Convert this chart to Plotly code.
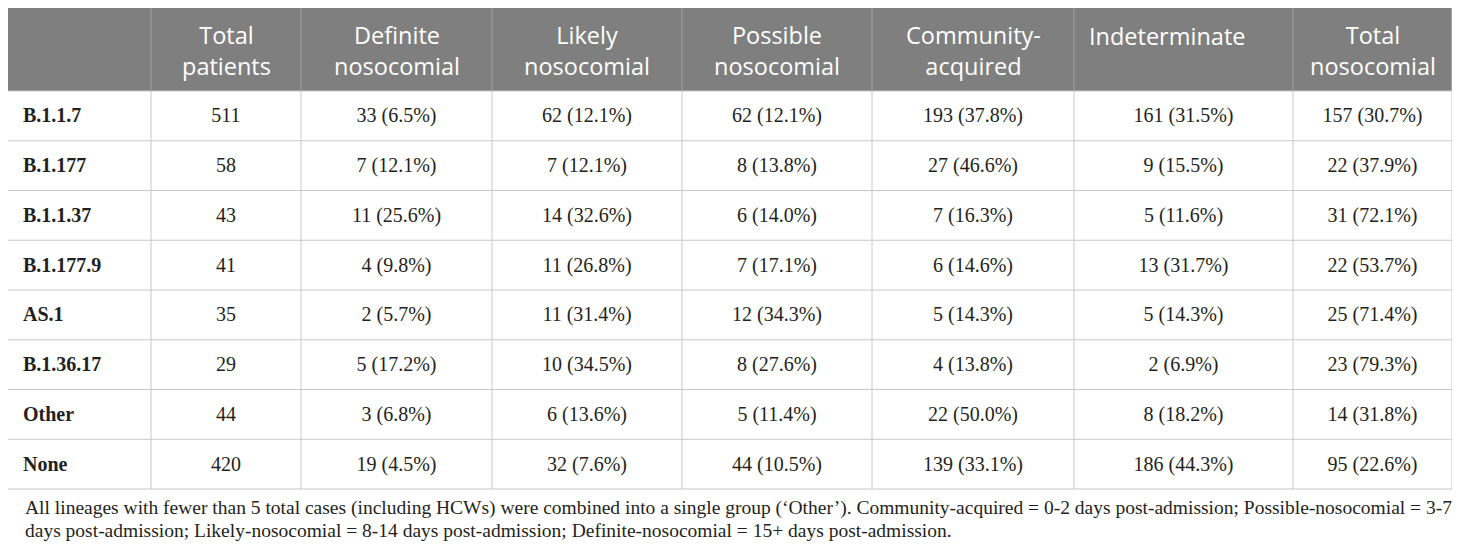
import plotly.graph_objs as go

# column headers and row labels
headers = ["", "Total<br>patients", "Definite<br>nosocomial", "Likely<br>nosocomial",
           "Possible<br>nosocomial", "Community-<br>acquired", "Indeterminate",
           "Total<br>nosocomial"]
lineages = ["B.1.1.7", "B.1.177", "B.1.1.37", "B.1.177.9", "AS.1", "B.1.36.17", "Other", "None"]

total_patients = [511, 58, 43, 41, 35, 29, 44, 420]

definite_n = [33, 7, 11, 4, 2, 5, 3, 19]
definite_pct = [6.5, 12.1, 25.6, 9.8, 5.7, 17.2, 6.8, 4.5]
likely_n = [62, 7, 14, 11, 11, 10, 6, 32]
likely_pct = [12.1, 12.1, 32.6, 26.8, 31.4, 34.5, 13.6, 7.6]
possible_n = [62, 8, 6, 7, 12, 8, 5, 44]
possible_pct = [12.1, 13.8, 14.0, 17.1, 34.3, 27.6, 11.4, 10.5]
community_n = [193, 27, 7, 6, 5, 4, 22, 139]
community_pct = [37.8, 46.6, 16.3, 14.6, 14.3, 13.8, 50.0, 33.1]
indeterminate_n = [161, 9, 5, 13, 5, 2, 8, 186]
indeterminate_pct = [31.5, 15.5, 11.6, 31.7, 14.3, 6.9, 18.2, 44.3]
total_noso_n = [157, 22, 31, 22, 25, 23, 14, 95]
total_noso_pct = [30.7, 37.9, 72.1, 53.7, 71.4, 79.3, 31.8, 22.6]

footnote = [
    "All lineages with fewer than 5 total cases (including HCWs) were combined into a single group (\u2018Other\u2019). "
    "Community-acquired = 0-2 days post-admission; Possible-nosocomial = 3-7",
    "days post-admission; Likely-nosocomial = 8-14 days post-admission; Definite-nosocomial = 15+ days post-admission.",
]


def fmt(ns, pcts):
    return ["%d (%.1f%%)" % (n, p) for n, p in zip(ns, pcts)]


columns = [
    ["<b>%s</b>" % l for l in lineages],
    [str(t) for t in total_patients],
    fmt(definite_n, definite_pct),
    fmt(likely_n, likely_pct),
    fmt(possible_n, possible_pct),
    fmt(community_n, community_pct),
    fmt(indeterminate_n, indeterminate_pct),
    fmt(total_noso_n, total_noso_pct),
]

# geometry (page pixels; the page body has an 8px margin, so axes start at 8)
W, H = 1460, 553
left, top = 7, 8
header_h = 83
row_h = 49.75
col_widths = [144, 150, 191, 190, 190, 202, 219, 159]

edges = [left]
for w in col_widths:
    edges.append(edges[-1] + w)
right = edges[-1]
head_bot = top + header_h
bottom = head_bot + row_h * len(lineages)
centers = [(a + b) / 2 for a, b in zip(edges[:-1], edges[1:])]
row_y = [head_bot + row_h * (i + 0.5) + 1.5 for i in range(len(lineages))]

TXT = "#231f20"
BODY_LINE = "#c8c8c8"
HEAD_LINE = "#a2a2a2"

fig = go.Figure()

# body cell texts
bfont = dict(family="Liberation Serif", size=20, color=TXT)
for j, col in enumerate(columns):
    if j == 0:
        fig.add_trace(go.Scatter(x=[left + 16] * len(col), y=row_y, text=col, mode="text",
                                 textposition="middle right", hoverinfo="skip", textfont=bfont))
    else:
        fig.add_trace(go.Scatter(x=[centers[j]] * len(col), y=row_y, text=col, mode="text",
                                 textposition="middle center", hoverinfo="skip", textfont=bfont))

shapes = []
# header background
shapes.append(dict(type="rect", x0=left, x1=right, y0=top, y1=head_bot,
                   fillcolor="#7f7f7f", line=dict(width=0), layer="below"))
# horizontal rules
shapes.append(dict(type="line", x0=left, x1=right, y0=top - 0.5, y1=top - 0.5,
                   line=dict(color=BODY_LINE, width=1)))
for i in range(len(lineages) + 1):
    y = head_bot + row_h * i
    shapes.append(dict(type="line", x0=left, x1=right, y0=y, y1=y,
                       line=dict(color=BODY_LINE, width=1)))
# vertical rules
for k, x in enumerate(edges):
    shapes.append(dict(type="line", x0=x, x1=x, y0=head_bot, y1=bottom,
                       line=dict(color=BODY_LINE, width=1)))
    inner = 0 < k < len(edges) - 1
    shapes.append(dict(type="line", x0=x, x1=x, y0=top, y1=head_bot,
                       line=dict(color=HEAD_LINE if inner else BODY_LINE, width=1)))

# header texts
hfont = dict(family="Open Sans", size=23.5, color="white")
for j, h in enumerate(headers):
    if not h:
        continue
    if "<br>" in h:
        fig.add_annotation(text=h, x=centers[j], y=top + 42, xanchor="center", align="center",
                           yanchor="middle", showarrow=False, font=hfont)
    else:
        fig.add_annotation(text=h, x=edges[j] + 13, y=top + 28, xanchor="left",
                           yanchor="middle", showarrow=False, font=hfont)

# footnote
for i, line in enumerate(footnote):
    fig.add_annotation(text=line, x=left + 16, y=bottom + 19 + 22 * i,
                       xanchor="left", yanchor="middle", showarrow=False,
                       font=dict(family="Liberation Serif", size=19.5, color=TXT))

fig.update_layout(width=W, height=H, margin=dict(l=0, r=0, t=0, b=0, pad=0),
                  paper_bgcolor="white", plot_bgcolor="white", showlegend=False,
                  shapes=shapes,
                  xaxis=dict(range=[8, 8 + W], visible=False, fixedrange=True),
                  yaxis=dict(range=[8 + H, 8], visible=False, fixedrange=True))

fig.write_html("out.html")
